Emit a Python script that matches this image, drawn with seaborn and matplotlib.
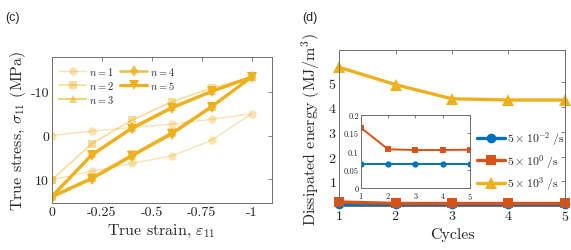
import matplotlib
matplotlib.use("Agg")
import matplotlib.pyplot as plt
import pandas as pd
import seaborn as sns

# (c) stress-strain loops, strain path out and back
strain = [0, -0.2, -0.4, -0.6, -0.8, -1.0, -0.8, -0.6, -0.4, -0.2, 0]
stress_n1 = [0.0, -1.0, -1.8, -2.6, -3.7, -5.0, 1.1, 4.7, 6.4, 8.2, 10.2]
stress_n2 = [10.2, 1.9, -3.5, -7.7, -10.9, -13.4, -6.8, -0.8, 4.3, 9.5, 13.8]
stress_n3 = [13.8, 4.3, -1.8, -6.5, -10.2, -13.4, -6.6, -0.5, 4.6, 9.8, 14.0]
stress_n4 = [14.0, 4.4, -1.7, -6.4, -10.1, -13.4, -6.6, -0.4, 4.7, 9.9, 14.1]
stress_n5 = [14.1, 4.5, -1.6, -6.3, -10.1, -13.4, -6.6, -0.4, 4.7, 9.9, 14.1]
cycle_labels = ["$n = 1$", "$n = 2$", "$n = 3$", "$n = 4$", "$n = 5$"]

# (d) dissipated energy per cycle
cycles = [1, 2, 3, 4, 5]
energy_slow = [0.066, 0.066, 0.066, 0.066, 0.066]
energy_mid = [0.165, 0.106, 0.104, 0.104, 0.105]
energy_fast = [5.6, 4.9, 4.33, 4.28, 4.28]
rate_labels = [r"$5\times10^{-2}\;/\mathrm{s}$", r"$5\times10^{0}\;/\mathrm{s}$",
               r"$5\times10^{3}\;/\mathrm{s}$"]

sns.set_theme(style="white")
plt.rcParams["font.family"] = ["cmr10", "DejaVu Serif"]
plt.rcParams["mathtext.fontset"] = "cm"
plt.rcParams["axes.unicode_minus"] = False
plt.rcParams["axes.formatter.use_mathtext"] = True

yellow = "#EDB120"
blue = "#0072BD"
orange = "#D95319"
spine_c = "#6e6e6e"

fig = plt.figure(figsize=(5.71, 2.51), dpi=100)
ax1 = fig.add_axes([0.0905, 0.187, 0.385, 0.580])
ax2 = fig.add_axes([0.594, 0.175, 0.395, 0.622])
ax3 = fig.add_axes([0.632, 0.247, 0.191, 0.291])

loops = [stress_n1, stress_n2, stress_n3, stress_n4, stress_n5]
markers = ["o", "s", "^", "d", "v"]
alphas = [0.35, 0.45, 0.6, 0.8, 1.0]
widths = [1.0, 1.2, 1.5, 1.9, 2.3]
for vals, lab, mk, a, lw in zip(loops, cycle_labels, markers, alphas, widths):
    d = pd.DataFrame({"strain": strain, "stress": vals})
    sns.lineplot(data=d, x="strain", y="stress", ax=ax1, sort=False, estimator=None,
                 color=yellow, alpha=a, lw=lw, marker=mk, markersize=6 if mk != "v" else 7.5,
                 markeredgewidth=0, label=lab)

ax1.set_xlim(0, -1.1)
ax1.set_ylim(15.5, -17.9)
ax1.set_xticks([0, -0.25, -0.5, -0.75, -1])
ax1.set_xticklabels(["0", "-0.25", "-0.5", "-0.75", "-1"])
ax1.set_yticks([-10, 0, 10])
ax1.set_yticklabels(["-10", "0", "10"])
ax1.set_xlabel(r"True strain, $\varepsilon_{11}$", fontsize=11.5, labelpad=3)
ax1.set_ylabel(r"True stress, $\sigma_{11}$ (MPa)", fontsize=11.5, labelpad=2)
ax1.legend(loc="upper left", ncol=2, frameon=False, fontsize=7.5, handlelength=2.6,
           borderaxespad=0.3, columnspacing=0.6, handletextpad=0.3, labelspacing=0.2)

d2 = pd.DataFrame({"cycle": cycles * 3,
                   "energy": energy_slow + energy_mid + energy_fast,
                   "rate": [rate_labels[0]] * 5 + [rate_labels[1]] * 5 + [rate_labels[2]] * 5})
pal = dict(zip(rate_labels, [blue, orange, yellow]))
for lab, mk, ms in zip(rate_labels, ["o", "s", "^"], [7, 7, 8]):
    sub = d2[d2["rate"] == lab]
    sns.lineplot(data=sub, x="cycle", y="energy", ax=ax2, color=pal[lab], lw=2.4,
                 marker=mk, markersize=ms, markeredgewidth=0, label=lab, clip_on=False)
    if lab != rate_labels[2]:
        sns.lineplot(data=sub, x="cycle", y="energy", ax=ax3, color=pal[lab], lw=1.4,
                     marker=mk, markersize=4.5, markeredgewidth=0, legend=False)

ax2.set_xlim(1, 5)
ax2.set_ylim(0, 6.3)
ax2.set_xticks(cycles)
ax2.set_yticks([1, 2, 3, 4, 5])
ax2.set_xlabel("Cycles", fontsize=11.5, labelpad=3)
ax2.set_ylabel(r"Dissipated energy $(\mathrm{MJ/m}^3)$", fontsize=11.5, labelpad=4)
ax2.legend(loc="lower right", frameon=False, fontsize=8.5, handlelength=2.4,
           bbox_to_anchor=(1.05, 0.02), handletextpad=0.2, labelspacing=0.4)

ax3.set_xlim(1, 5)
ax3.set_ylim(0, 0.2)
ax3.set_xticks(cycles)
ax3.set_yticks([0, 0.05, 0.1, 0.15, 0.2])
ax3.set_yticklabels(["0", "0.05", "0.1", "0.15", "0.2"])
ax3.set_xlabel("")
ax3.set_ylabel("")

for ax, fs in [(ax1, 10), (ax2, 10), (ax3, 6)]:
    ax.tick_params(direction="in", top=True, right=True, length=3 if ax is not ax3 else 2,
                   width=0.6, colors="#222222", labelsize=fs, pad=2 if ax is not ax3 else 1.5)
    ax.tick_params(axis="both", color=spine_c)
    for s in ax.spines.values():
        s.set_color(spine_c)
        s.set_linewidth(0.7)
    ax.grid(False)

fig.text(0.009, 0.93, "(c)", fontsize=9, family="Liberation Sans", va="center")
fig.text(0.53, 0.93, "(d)", fontsize=9, family="Liberation Sans", va="center")

fig.savefig("out.png", dpi=100)
